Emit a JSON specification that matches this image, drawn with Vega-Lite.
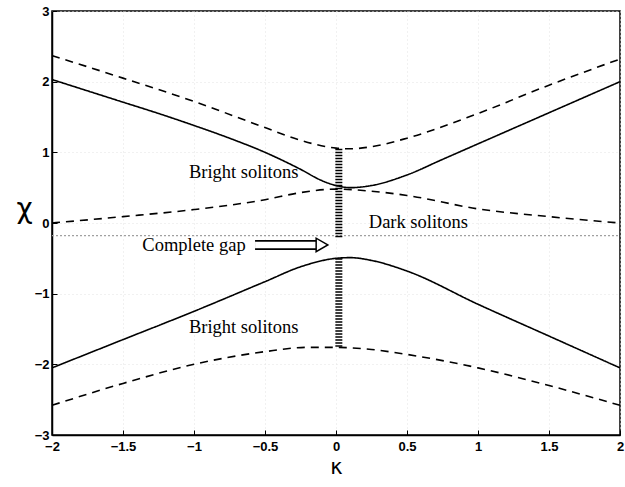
{
  "$schema": "https://vega.github.io/schema/vega-lite/v6.json",
  "width": 568,
  "height": 424,
  "autosize": {"type": "none"},
  "padding": {"left": 52, "top": 11, "right": 5, "bottom": 52},
  "background": "white",
  "config": {
    "view": {"stroke": "black", "strokeWidth": 1.5},
    "axis": {
      "grid": true, "gridColor": "#e2e2e2", "gridDash": [1, 3],
      "domainColor": "black", "domainWidth": 1.5,
      "tickColor": "black", "tickSize": -5,
      "labelFont": "Liberation Sans", "labelFontWeight": "bold", "labelFontSize": 13, "labelColor": "black",
      "labelFlush": false, "format": "~g",
      "titleFont": "DejaVu Sans", "titleColor": "black", "titleFontWeight": "normal"
    }
  },
  "datasets": {
    "curves": [
      {"curve": "upperSolid", "family": "solid", "k": -2, "chi": 2.03},
      {"curve": "upperSolid", "family": "solid", "k": -1.75, "chi": 1.87},
      {"curve": "upperSolid", "family": "solid", "k": -1.5, "chi": 1.71},
      {"curve": "upperSolid", "family": "solid", "k": -1.25, "chi": 1.55},
      {"curve": "upperSolid", "family": "solid", "k": -1, "chi": 1.38},
      {"curve": "upperSolid", "family": "solid", "k": -0.75, "chi": 1.2},
      {"curve": "upperSolid", "family": "solid", "k": -0.5, "chi": 1.0},
      {"curve": "upperSolid", "family": "solid", "k": -0.25, "chi": 0.76},
      {"curve": "upperSolid", "family": "solid", "k": -0.1, "chi": 0.6},
      {"curve": "upperSolid", "family": "solid", "k": 0, "chi": 0.53},
      {"curve": "upperSolid", "family": "solid", "k": 0.1, "chi": 0.5},
      {"curve": "upperSolid", "family": "solid", "k": 0.25, "chi": 0.53},
      {"curve": "upperSolid", "family": "solid", "k": 0.5, "chi": 0.68},
      {"curve": "upperSolid", "family": "solid", "k": 0.75, "chi": 0.9},
      {"curve": "upperSolid", "family": "solid", "k": 1, "chi": 1.12},
      {"curve": "upperSolid", "family": "solid", "k": 1.25, "chi": 1.34},
      {"curve": "upperSolid", "family": "solid", "k": 1.5, "chi": 1.56},
      {"curve": "upperSolid", "family": "solid", "k": 1.75, "chi": 1.78},
      {"curve": "upperSolid", "family": "solid", "k": 2, "chi": 2.0},

      {"curve": "lowerSolid", "family": "solid", "k": -2, "chi": -2.05},
      {"curve": "lowerSolid", "family": "solid", "k": -1.5, "chi": -1.65},
      {"curve": "lowerSolid", "family": "solid", "k": -1, "chi": -1.25},
      {"curve": "lowerSolid", "family": "solid", "k": -0.5, "chi": -0.83},
      {"curve": "lowerSolid", "family": "solid", "k": -0.25, "chi": -0.62},
      {"curve": "lowerSolid", "family": "solid", "k": 0, "chi": -0.5},
      {"curve": "lowerSolid", "family": "solid", "k": 0.1, "chi": -0.49},
      {"curve": "lowerSolid", "family": "solid", "k": 0.25, "chi": -0.53},
      {"curve": "lowerSolid", "family": "solid", "k": 0.5, "chi": -0.68},
      {"curve": "lowerSolid", "family": "solid", "k": 1, "chi": -1.15},
      {"curve": "lowerSolid", "family": "solid", "k": 1.5, "chi": -1.6},
      {"curve": "lowerSolid", "family": "solid", "k": 2, "chi": -2.05},

      {"curve": "upperDashed", "family": "dashed", "k": -2, "chi": 2.37},
      {"curve": "upperDashed", "family": "dashed", "k": -1.5, "chi": 2.05},
      {"curve": "upperDashed", "family": "dashed", "k": -1, "chi": 1.72},
      {"curve": "upperDashed", "family": "dashed", "k": -0.5, "chi": 1.35},
      {"curve": "upperDashed", "family": "dashed", "k": -0.25, "chi": 1.17},
      {"curve": "upperDashed", "family": "dashed", "k": 0, "chi": 1.06},
      {"curve": "upperDashed", "family": "dashed", "k": 0.1, "chi": 1.05},
      {"curve": "upperDashed", "family": "dashed", "k": 0.25, "chi": 1.08},
      {"curve": "upperDashed", "family": "dashed", "k": 0.5, "chi": 1.2},
      {"curve": "upperDashed", "family": "dashed", "k": 1, "chi": 1.55},
      {"curve": "upperDashed", "family": "dashed", "k": 1.5, "chi": 1.95},
      {"curve": "upperDashed", "family": "dashed", "k": 2, "chi": 2.32},

      {"curve": "middleDashed", "family": "dashed", "k": -2, "chi": 0.0},
      {"curve": "middleDashed", "family": "dashed", "k": -1.5, "chi": 0.09},
      {"curve": "middleDashed", "family": "dashed", "k": -1, "chi": 0.19},
      {"curve": "middleDashed", "family": "dashed", "k": -0.5, "chi": 0.33},
      {"curve": "middleDashed", "family": "dashed", "k": -0.25, "chi": 0.43},
      {"curve": "middleDashed", "family": "dashed", "k": 0, "chi": 0.48},
      {"curve": "middleDashed", "family": "dashed", "k": 0.25, "chi": 0.45},
      {"curve": "middleDashed", "family": "dashed", "k": 0.5, "chi": 0.39},
      {"curve": "middleDashed", "family": "dashed", "k": 1, "chi": 0.2},
      {"curve": "middleDashed", "family": "dashed", "k": 1.5, "chi": 0.09},
      {"curve": "middleDashed", "family": "dashed", "k": 2, "chi": 0.0},

      {"curve": "lowerDashed", "family": "dashed", "k": -2, "chi": -2.58},
      {"curve": "lowerDashed", "family": "dashed", "k": -1.5, "chi": -2.27},
      {"curve": "lowerDashed", "family": "dashed", "k": -1, "chi": -2.0},
      {"curve": "lowerDashed", "family": "dashed", "k": -0.5, "chi": -1.82},
      {"curve": "lowerDashed", "family": "dashed", "k": -0.2, "chi": -1.76},
      {"curve": "lowerDashed", "family": "dashed", "k": 0, "chi": -1.76},
      {"curve": "lowerDashed", "family": "dashed", "k": 0.25, "chi": -1.79},
      {"curve": "lowerDashed", "family": "dashed", "k": 0.5, "chi": -1.86},
      {"curve": "lowerDashed", "family": "dashed", "k": 1, "chi": -2.05},
      {"curve": "lowerDashed", "family": "dashed", "k": 1.5, "chi": -2.3},
      {"curve": "lowerDashed", "family": "dashed", "k": 2, "chi": -2.58}
    ],
    "bands": [
      {"k": 0.02, "top": 1.05, "bottom": -0.2},
      {"k": 0.02, "top": -0.5, "bottom": -1.76}
    ],
    "gapline": [
      {"k": -2, "chi": -0.18},
      {"k": 2, "chi": -0.18}
    ],
    "arrow": [
      {"k": -0.57, "k2": -0.12, "chi": -0.31}
    ],
    "labels": [
      {"k": -0.65, "chi": 0.72, "text": "Bright solitons"},
      {"k": 0.58, "chi": 0.02, "text": "Dark solitons"},
      {"k": -1.0, "chi": -0.31, "text": "Complete gap"},
      {"k": -0.65, "chi": -1.47, "text": "Bright solitons"}
    ]
  },
  "layer": [
    {
      "data": {"name": "gapline"},
      "mark": {"type": "line", "color": "#a0a0a0", "strokeDash": [2, 2], "strokeWidth": 1.2},
      "encoding": {
        "x": {"field": "k", "type": "quantitative", "scale": {"domain": [-2, 2], "nice": false},
          "axis": {"values": [-2, -1.5, -1, -0.5, 0, 0.5, 1, 1.5, 2], "title": "κ", "titleFontSize": 21, "titlePadding": 3, "labelPadding": 10}},
        "y": {"field": "chi", "type": "quantitative", "scale": {"domain": [-3, 3], "nice": false},
          "axis": {"values": [-3, -2, -1, 0, 1, 2, 3], "title": "χ", "titleFontSize": 28, "titleAngle": 0, "titlePadding": 10, "labelPadding": 8}}
      }
    },
    {
      "data": {"name": "curves"},
      "mark": {"type": "line", "color": "black", "strokeWidth": 1.6, "interpolate": "monotone"},
      "encoding": {
        "x": {"field": "k", "type": "quantitative"},
        "y": {"field": "chi", "type": "quantitative"},
        "detail": {"field": "curve"},
        "strokeDash": {"field": "family", "type": "nominal", "scale": {"domain": ["solid", "dashed"], "range": [[1, 0], [8, 6]]}, "legend": null}
      }
    },
    {
      "data": {"name": "bands"},
      "mark": {"type": "rule", "color": "black", "strokeWidth": 7, "strokeDash": [1.5, 1.5]},
      "encoding": {
        "x": {"field": "k", "type": "quantitative"},
        "y": {"field": "top", "type": "quantitative"},
        "y2": {"field": "bottom"}
      }
    },
    {
      "data": {"name": "arrow"},
      "mark": {"type": "rule", "color": "black", "strokeWidth": 10},
      "encoding": {
        "x": {"field": "k", "type": "quantitative"},
        "x2": {"field": "k2"},
        "y": {"field": "chi", "type": "quantitative"}
      }
    },
    {
      "data": {"name": "arrow"},
      "mark": {"type": "rule", "color": "white", "strokeWidth": 6.5},
      "encoding": {
        "x": {"field": "k", "type": "quantitative"},
        "x2": {"field": "k2"},
        "y": {"field": "chi", "type": "quantitative"}
      }
    },
    {
      "data": {"name": "arrow"},
      "mark": {"type": "point", "shape": "triangle-right", "filled": true, "fill": "white", "stroke": "black", "strokeWidth": 1.5, "size": 180, "opacity": 1, "xOffset": 3},
      "encoding": {
        "x": {"field": "k2", "type": "quantitative"},
        "y": {"field": "chi", "type": "quantitative"}
      }
    },
    {
      "data": {"name": "labels"},
      "mark": {"type": "text", "font": "Liberation Serif", "fontSize": 18.5, "color": "black", "align": "center", "baseline": "middle"},
      "encoding": {
        "x": {"field": "k", "type": "quantitative"},
        "y": {"field": "chi", "type": "quantitative"},
        "text": {"field": "text"}
      }
    }
  ]
}
